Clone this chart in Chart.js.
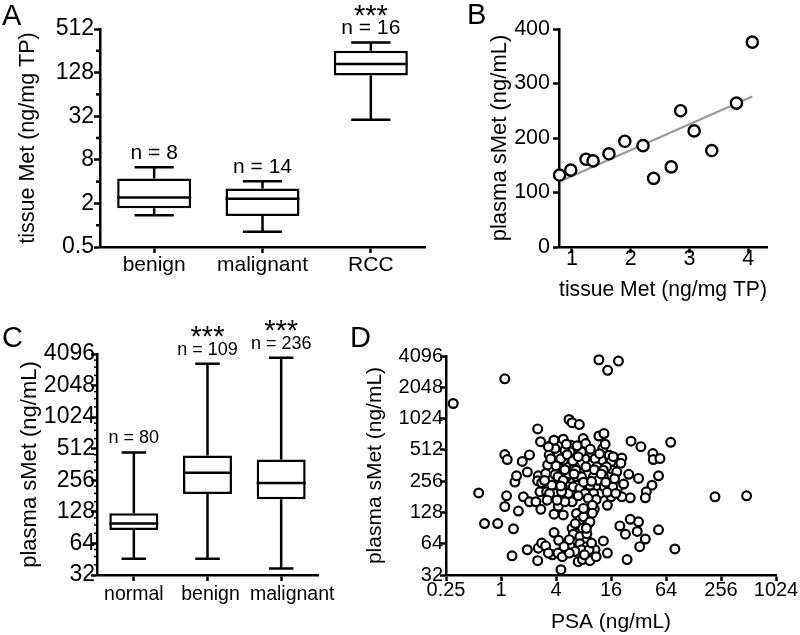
<!DOCTYPE html>
<html><head><meta charset="utf-8">
<script src="https://cdn.jsdelivr.net/npm/chart.js@4/dist/chart.umd.min.js"></script>
<style>
html,body{margin:0;padding:0;background:#fff;}
#wrap{position:relative;width:800px;height:635px;overflow:hidden;background:#fff;}
canvas{position:absolute;left:0;top:0;}
.lab{position:absolute;font-family:'Liberation Sans',Arial,sans-serif;font-size:29px;line-height:1;color:#000;}
</style></head><body>
<div id="wrap">
<canvas id="cA" width="800" height="635"></canvas>
<canvas id="cB" width="800" height="635"></canvas>
<canvas id="cC" width="800" height="635"></canvas>
<canvas id="cD" width="800" height="635"></canvas>
<div class="lab" style="left:2px;top:1px">A</div>
<div class="lab" style="left:467px;top:0px">B</div>
<div class="lab" style="left:2px;top:323px">C</div>
<div class="lab" style="left:350px;top:323px">D</div>
</div>
<script>
// ---------- Panel A: tissue Met box plots ----------
const tissueCategories = ['benign', 'malignant', 'RCC'];
const tissueMin    = [1.37, 0.81, 28.6];
const tissueQ1     = [1.71, 1.34, 117];
const tissueMedian = [2.42, 2.32, 168];
const tissueQ3     = [4.4, 3.2, 256];
const tissueMax    = [6.3, 4.06, 333];
const tissueN      = [8, 14, 16];
const tissueSig    = ['', '', '***'];
const tissueTicks  = [0.5, 2, 8, 32, 128, 512];
const tissueMinor  = [1, 4, 16, 64, 256];

// ---------- Panel B: plasma vs tissue ----------
const pairTissue = [0.79, 0.98, 1.24, 1.36, 1.63, 1.90, 2.21, 2.39, 2.69, 2.85, 3.08, 3.38, 3.80, 4.07];
const pairPlasma = [132, 141, 161, 158, 171, 194, 186, 126, 147, 250, 213, 177, 264, 376];
const pairXTicks = [1, 2, 3, 4];
const pairYTicks = [0, 100, 200, 300, 400];

// ---------- Panel C: plasma sMet box plots ----------
const plasmaCategories = ['normal', 'benign', 'malignant'];
const plasmaMin    = [45.8, 45.8, 37];
const plasmaQ1     = [86, 189, 169];
const plasmaMedian = [99, 302, 241];
const plasmaQ3     = [124, 442, 404];
const plasmaMax    = [471, 3300, 3770];
const plasmaN      = [80, 109, 236];
const plasmaSig    = ['', '***', '***'];
const plasmaTicks  = [32, 64, 128, 256, 512, 1024, 2048, 4096];
const plasmaMinorSteps = [1.25, 1.5, 1.75];

// ---------- Panel D: sMet vs PSA ----------
const psaValues = [
0.30,1.1,11.8,14.7,19.3,0.57,0.66,0.92,220,488,
80,72,26.5,34,46,46.5,55,53,45,39,
38,32,26,21,21,25,53,38,33,32,
31,26,23,20,24,14.6,13.2,14.6,10.5,1.1,
1.17,1.15,1.1,1.37,1.32,1.55,1.42,1.48,1.71,2.05,
1.94,1.76,2.05,1.94,2.52,2.71,2.41,2.73,2.52,2.56,
2.79,3.08,2.56,2.52,2.79,2.67,3.08,3.24,3.16,3.5,
3.37,3.65,3.3,3.81,3.81,4.8,4.24,4.28,4.2,4.53,
4.69,3.73,3.9,4.43,4.24,4.8,5.55,6.0,7.2,5.8,
7.94,8.45,6.45,5.24,7.6,5.8,4.69,5.46,6.0,5.0,
6.7,7.3,7.8,6.0,6.2,7.3,8.7,7.3,8.7,7.6,
5.7,6.45,5.6,7.0,7.8,9.4,10.7,9.2,9.0,8.0,
9.4,8.7,11.8,13.4,13.0,13.8,15.3,16,16.6,18.5,
19.3,16.7,16,15,13.2,12.6,12,11.2,12.1,10.3,
9.4,9.0,9.9,10.7,8.3,7.6,5.7,5.0,3.9,3.8,
3.3,4.8,5.2,6.7,7.6,7.3,6.4,6.2,7.3,8.3,
3.6,3.9,4.1,4.6,3.4,3.2,4.2,4.8,5.5,6.6,
8.5,11.2,10.3,11.6,13.5,14.3,16.9,13.2,4.5,5.3,
6.1,7.0,8.0,9.8,10.5,12.5,14.0,11.0,9.0,7.0,
6.3,5.0,4.0,3.5,3.0,4.5,8.0,10.0,12.0,9.5,
6.8,5.2,14.5,17.5,20.5,22,18,10,8.6,6.5,
5.6,4.9,9.8,11,8.2];
const smetValues = [
1430,2470,3770,2980,3660,197,100,100,181,185,
57,605,620,550,471,413,422,288,234,202,
177,272,177,181,427,298,87,71,60,104,
84,110,79,95,45,52,68,150,138,461,
413,185,146,89,49,132,251,288,396,458,
313,181,162,56,815,613,162,137,44,58,
65,61,288,258,247,202,303,367,202,561,
458,50,52,82,123,121,147,69,52,36,
48,181,296,352,471,648,1003,935,897,568,
658,588,440,352,338,272,226,195,162,162,
125,108,90,90,79,75,69,64,60,56,
61,54,52,43,45,44,56,56,100,116,
104,80,696,735,527,580,455,393,326,315,
226,226,181,282,282,407,338,226,195,195,
234,302,377,421,421,491,491,508,527,634,
549,407,282,282,282,377,352,226,218,195,
234,195,168,202,195,168,282,261,302,326,
352,352,282,261,226,352,440,326,420,460,
400,440,250,255,330,300,250,170,175,185,
300,330,360,420,260,230,140,150,470,520,
560,580,200,270,380,240,195,126,90,100,
70,60,65,48,50];
const psaTicks  = [0.25, 1, 4, 16, 64, 256, 1024];
const smetTicks = [32, 64, 128, 256, 512, 1024, 2048, 4096];

// ---------- helpers ----------
const FONT = "'Liberation Sans', Arial, Helvetica, sans-serif";
const LW = 2.5;
Chart.defaults.font.family = FONT;
Chart.defaults.color = '#000';

function axis(extra) {
  const base = {
    border: {display: true, color: '#000', width: LW},
    grid: {display: true, drawOnChartArea: false, drawTicks: true, tickLength: 6,
           tickColor: '#000', tickWidth: LW, color: '#000', offset: false},
    ticks: {color: '#000', font: {family: FONT, size: 21}, padding: 0,
            autoSkip: false, maxRotation: 0, minRotation: 0}
  };
  const out = Object.assign({}, base, extra);
  out.ticks = Object.assign({}, base.ticks, extra.ticks || {});
  out.grid = Object.assign({}, base.grid, extra.grid || {});
  return out;
}
function fixedTicks(list) { return s => { s.ticks = list.map(v => ({value: v})); }; }
const fmt = v => String(v);
const titleFont = size => ({family: FONT, size: size});

function boxPlugin(mins, q1s, meds, q3s, maxs, ns, sigs, nSize, capRatio) {
  return {
    id: 'boxplot',
    beforeDatasetsDraw(chart) {
      const ctx = chart.ctx, y = chart.scales.y, meta = chart.getDatasetMeta(0);
      ctx.save(); ctx.strokeStyle = '#000'; ctx.lineWidth = LW;
      meta.data.forEach((bar, i) => {
        const x = bar.x, cw = bar.width * capRatio / 2;
        const pMax = y.getPixelForValue(maxs[i]), pMin = y.getPixelForValue(mins[i]);
        const pQ3 = y.getPixelForValue(q3s[i]), pQ1 = y.getPixelForValue(q1s[i]);
        ctx.beginPath();
        ctx.moveTo(x, pQ3); ctx.lineTo(x, pMax);
        ctx.moveTo(x - cw, pMax); ctx.lineTo(x + cw, pMax);
        ctx.moveTo(x, pQ1); ctx.lineTo(x, pMin);
        ctx.moveTo(x - cw, pMin); ctx.lineTo(x + cw, pMin);
        ctx.stroke();
      });
      ctx.restore();
    },
    afterDatasetsDraw(chart) {
      const ctx = chart.ctx, y = chart.scales.y, meta = chart.getDatasetMeta(0);
      ctx.save(); ctx.strokeStyle = '#000'; ctx.fillStyle = '#000'; ctx.lineWidth = LW;
      meta.data.forEach((bar, i) => {
        const x = bar.x, hw = bar.width / 2;
        const pMed = y.getPixelForValue(meds[i]);
        ctx.beginPath(); ctx.moveTo(x - hw, pMed); ctx.lineTo(x + hw, pMed); ctx.stroke();
        const pMax = y.getPixelForValue(maxs[i]);
        const nY = pMax - 14;
        ctx.textAlign = 'center'; ctx.textBaseline = 'middle';
        ctx.font = nSize + 'px ' + FONT;
        ctx.fillText('n = ' + ns[i], x, nY);
        if (sigs[i]) {
          ctx.textBaseline = 'alphabetic';
          ctx.font = '29px ' + FONT;
          ctx.fillText(sigs[i], x, nY - 4);
        }
      });
      ctx.restore();
    }
  };
}
function minorTickPlugin(values, len, width) {
  return {
    id: 'minorTicks',
    afterDraw(chart) {
      const ctx = chart.ctx, y = chart.scales.y, left = chart.chartArea.left;
      ctx.save(); ctx.strokeStyle = '#000'; ctx.lineWidth = width;
      values.forEach(v => {
        const p = y.getPixelForValue(v);
        ctx.beginPath(); ctx.moveTo(left - len, p); ctx.lineTo(left, p); ctx.stroke();
      });
      ctx.restore();
    }
  };
}
// category labels drawn under the axis, with a small sideways nudge per label
function categoryLabelPlugin(labels, shifts, size, dy) {
  return {
    id: 'catLabels',
    afterDraw(chart) {
      const ctx = chart.ctx, x = chart.scales.x;
      ctx.save(); ctx.fillStyle = '#000'; ctx.font = size + 'px ' + FONT;
      ctx.textAlign = 'center'; ctx.textBaseline = 'middle';
      labels.forEach((t, i) => ctx.fillText(t, x.getPixelForTick(i) + shifts[i], chart.chartArea.bottom + dy));
      ctx.restore();
    }
  };
}
const common = {responsive: false, animation: false, events: [],
  plugins: {legend: {display: false}, tooltip: {enabled: false}}};

// ---------- Chart A ----------
new Chart(document.getElementById('cA'), {
  type: 'bar',
  data: {labels: tissueCategories, datasets: [{
    data: tissueQ1.map((q, i) => [q, tissueQ3[i]]),
    backgroundColor: '#fff', borderColor: '#000', borderWidth: LW, borderSkipped: false,
    barPercentage: 0.683, categoryPercentage: 1}]},
  options: Object.assign({}, common, {
    layout: {padding: {left: 0, top: 29, right: 375, bottom: 635 - 247 - 40}},
    scales: {
      x: axis({type: 'category', offset: true, afterFit: s => { s.height = 40; }, ticks: {padding: 0, font: {family: FONT, size: 21}}}),
      y: axis({type: 'logarithmic', min: 0.5, max: 512, afterBuildTicks: fixedTicks(tissueTicks),
        ticks: {callback: fmt, padding: 0, font: {family: FONT, size: 23}},
        title: {display: true, text: 'tissue Met (ng/mg TP)', color: '#000', font: titleFont(21.5), padding: {top: 15.2, bottom: 0}},
        afterFit: s => { s.width = 100; }})
    }
  }),
  plugins: [boxPlugin(tissueMin, tissueQ1, tissueMedian, tissueQ3, tissueMax, tissueN, tissueSig, 21, 0.53),
            minorTickPlugin(tissueMinor, 4, LW)]
});

// ---------- Chart B ----------
const n = pairTissue.length;
const mx = pairTissue.reduce((a, b) => a + b, 0) / n;
const my = pairPlasma.reduce((a, b) => a + b, 0) / n;
let sxy = 0, sxx = 0;
for (let i = 0; i < n; i++) { sxy += (pairTissue[i] - mx) * (pairPlasma[i] - my); sxx += (pairTissue[i] - mx) ** 2; }
const slope = sxy / sxx, intercept = my - slope * mx;
const xLo = Math.min(...pairTissue), xHi = Math.max(...pairTissue);

new Chart(document.getElementById('cB'), {
  type: 'scatter',
  data: {datasets: [
    {type: 'scatter', data: pairTissue.map((x, i) => ({x: x, y: pairPlasma[i]})),
     pointRadius: 5.6, borderWidth: 2.4, borderColor: '#000', backgroundColor: '#fff', order: 1, clip: false},
    {type: 'line', data: [{x: xLo, y: intercept + slope * xLo}, {x: xHi, y: intercept + slope * xHi}],
     borderColor: '#999', borderWidth: 2, pointRadius: 0, fill: false, order: 2}
  ]},
  options: Object.assign({}, common, {
    layout: {padding: {left: 470, top: 29, right: 33, bottom: 635 - 247 - 60}},
    scales: {
      x: axis({type: 'linear', min: 0.78, max: 4.32, afterBuildTicks: fixedTicks(pairXTicks),
        ticks: {callback: fmt, padding: -7, font: {family: FONT, size: 21.5}},
        title: {display: true, text: 'tissue Met (ng/mg TP)', color: '#000', font: titleFont(21.5), padding: {top: 0, bottom: 4.2}},
        afterFit: s => { s.height = 60; }}),
      y: axis({type: 'linear', min: 0, max: 400, afterBuildTicks: fixedTicks(pairYTicks),
        ticks: {callback: fmt, padding: 3, font: {family: FONT, size: 21.5}},
        title: {display: true, text: 'plasma sMet (ng/mL)', color: '#000', font: titleFont(22), padding: {top: 16.8, bottom: 0}},
        afterFit: s => { s.width = 89; }})
    }
  })
});

// ---------- Chart C ----------
const plasmaMinor = [];
plasmaTicks.slice(0, -1).forEach(t => plasmaMinorSteps.forEach(m => plasmaMinor.push(t * m)));
new Chart(document.getElementById('cC'), {
  type: 'bar',
  data: {labels: plasmaCategories, datasets: [{
    data: plasmaQ1.map((q, i) => [q, plasmaQ3[i]]),
    backgroundColor: '#fff', borderColor: '#000', borderWidth: LW, borderSkipped: false,
    barPercentage: 0.665, categoryPercentage: 1}]},
  options: Object.assign({}, common, {
    layout: {padding: {left: 0, top: 354, right: 800 - 318, bottom: 635 - 575 - 40}},
    scales: {
      x: axis({type: 'category', offset: true, afterFit: s => { s.height = 40; }, ticks: {display: false}}),
      y: axis({type: 'logarithmic', min: 32, max: 4096, afterBuildTicks: fixedTicks(plasmaTicks),
        ticks: {callback: fmt, padding: -4, font: {family: FONT, size: 23}},
        title: {display: true, text: 'plasma sMet (ng/mL)', color: '#000', font: titleFont(22), padding: {top: 16.8, bottom: 0}},
        afterFit: s => { s.width = 97; }})
    }
  }),
  plugins: [boxPlugin(plasmaMin, plasmaQ1, plasmaMedian, plasmaQ3, plasmaMax, plasmaN, plasmaSig, 18, 0.5),
            minorTickPlugin(plasmaMinor, 3, 1.5),
            categoryLabelPlugin(plasmaCategories, [0, 3, 11], 19.5, 20)]
});

// ---------- Chart D ----------
new Chart(document.getElementById('cD'), {
  type: 'scatter',
  data: {datasets: [{data: psaValues.map((x, i) => ({x: x, y: smetValues[i]})),
    pointRadius: 4.4, borderWidth: 2.2, borderColor: '#000', backgroundColor: '#fff', clip: false}]},
  options: Object.assign({}, common, {
    layout: {padding: {left: 345, top: 356, right: 24, bottom: 0}},
    scales: {
      x: axis({type: 'logarithmic', min: 0.25, max: 1024, afterBuildTicks: fixedTicks(psaTicks),
        ticks: {callback: fmt, padding: -3, font: {family: FONT, size: 20}},
        title: {display: true, text: 'PSA (ng/mL)', color: '#000', font: titleFont(21), padding: {top: 0, bottom: 0.4}},
        afterFit: s => { s.height = 60; }}),
      y: axis({type: 'logarithmic', min: 32, max: 4096, afterBuildTicks: fixedTicks(smetTicks),
        ticks: {callback: fmt, padding: -3, font: {family: FONT, size: 20}},
        title: {display: true, text: 'plasma sMet (ng/mL)', color: '#000', font: titleFont(21), padding: {top: 17.4, bottom: 0}},
        afterFit: s => { s.width = 101; }})
    }
  })
});
</script>
</body></html>
